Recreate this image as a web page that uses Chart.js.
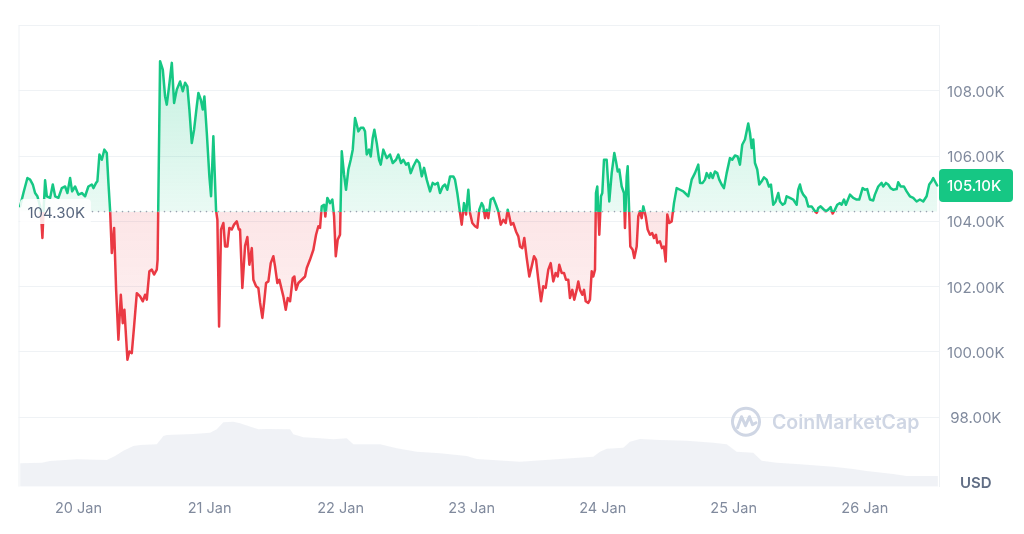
<!DOCTYPE html>
<html>
<head>
<meta charset="utf-8">
<style>
  html, body { margin: 0; padding: 0; background: #ffffff; }
  #wrap { width: 1024px; height: 534px; position: relative; }
  canvas { display: block; }
</style>
<script src="https://cdn.jsdelivr.net/npm/chart.js@4.4.1/dist/chart.umd.min.js"></script>
</head>
<body>
<div id="wrap"><canvas id="c" width="1024" height="534" style="width:1024px;height:534px"></canvas></div>
<script>
// ---------- DATA ----------
// time in hours relative to 20 Jan 00:00
const TIME_H = [
-10.70,-10.10,-9.37,-8.87,-8.38,-7.96,-7.54,-7.04,-6.80,-6.62,
-6.44,-6.13,-5.81,-5.21,-4.72,-4.29,-3.69,-3.07,-2.46,-2.04,
-1.55,-1.18,-0.63,-0.03,0.60,1.20,1.80,2.43,2.72,3.21,
3.45,3.82,4.26,4.73,5.17,5.47,5.78,6.09,6.51,6.88,
7.30,7.74,8.10,8.40,8.95,9.31,9.75,10.17,10.67,11.27,
11.77,12.19,12.50,12.97,13.41,13.83,14.33,14.48,14.93,15.43,
15.85,16.16,16.58,17.08,17.50,17.99,18.60,19.09,19.51,19.93,
20.30,20.74,21.16,21.65,21.95,22.39,22.75,23.05,23.49,23.96,
24.27,24.69,25.19,25.43,25.74,26.10,26.53,26.84,27.26,27.62,
28.06,28.48,28.98,29.35,29.58,30.00,30.50,30.92,31.29,31.73,
32.02,32.51,32.93,33.25,33.67,33.98,34.34,34.77,35.20,35.68,
35.99,36.41,36.78,37.22,37.51,37.95,38.32,38.74,39.23,39.53,
39.84,40.26,40.88,41.49,41.80,42.40,43.01,43.50,43.92,44.23,
44.54,44.97,45.20,45.57,46.06,46.49,46.80,47.11,47.47,47.89,
48.21,48.63,48.99,49.42,49.85,50.22,50.64,50.95,51.25,51.69,
52.16,52.47,52.78,53.21,53.52,53.88,54.18,54.62,55.04,55.35,
55.82,56.45,57.05,57.55,58.15,58.57,59.07,59.49,59.98,60.40,
60.84,61.32,61.94,62.42,62.86,63.28,63.77,64.38,64.87,65.29,
65.79,66.21,66.70,67.12,67.54,68.04,68.64,68.95,69.37,69.87,
70.18,70.60,70.97,71.39,71.70,72.12,72.62,73.04,73.40,73.84,
74.14,74.45,74.76,75.05,75.49,75.97,76.46,76.88,77.32,77.80,
78.24,78.60,78.90,79.21,79.63,80.12,80.55,80.86,81.28,81.64,
82.08,82.56,83.00,83.42,83.79,84.21,84.70,85.12,85.56,86.04,
86.48,86.95,87.39,87.76,88.05,88.49,88.91,89.28,89.70,90.01,
90.43,90.80,91.24,91.53,91.84,92.26,92.58,92.89,93.36,93.67,
93.99,94.28,94.59,94.77,95.01,95.38,95.69,95.93,96.24,96.73,
97.21,97.65,98.13,98.44,98.75,99.04,99.48,99.90,100.08,100.40,
100.58,100.82,101.06,101.49,101.79,102.23,102.52,102.83,103.14,103.44,
103.88,104.24,104.66,105.08,105.39,105.76,106.00,106.49,106.86,107.23,
107.54,107.83,108.20,108.64,109.06,109.55,110.16,110.76,111.07,111.68,
112.30,112.90,113.51,113.82,114.31,114.73,115.05,115.52,115.78,116.14,
116.57,116.99,117.35,117.79,118.21,118.71,119.31,119.73,120.23,120.72,
121.14,121.56,122.06,122.66,122.98,123.29,123.58,123.89,124.31,124.68,
125.12,125.54,126.03,126.45,126.82,127.24,127.68,128.16,128.47,128.96,
129.38,129.69,130.30,130.90,131.53,131.82,132.13,132.44,132.74,133.23,
133.65,134.27,134.88,135.19,135.48,135.92,136.40,136.89,137.31,137.75,
138.12,138.54,138.96,139.45,139.77,140.19,140.55,141.29,141.89,142.51,
142.99,143.61,144.03,144.45,144.95,145.55,145.86,146.47,147.09,147.38,
147.88,148.30,148.74,149.21,149.84,150.13,150.57,151.18,151.67,152.27,
152.88,153.50,154.10,154.71,155.33,155.81,156.25,156.54,156.85,157.27
];
// price in thousands of USD
const PRICE_K = [
104.46,104.87,105.33,105.28,105.13,104.87,104.77,104.46,104.00,103.49,
104.21,105.26,104.77,104.72,105.13,104.77,104.72,105.02,105.07,104.87,
105.33,104.92,105.07,104.82,104.87,104.77,105.07,105.13,105.02,105.18,
105.23,106.05,105.89,106.20,106.10,105.18,104.33,103.03,103.80,101.90,
100.37,101.75,100.88,101.29,99.76,100.01,99.96,100.78,101.80,101.70,
101.55,101.75,101.60,102.47,102.52,102.37,102.52,102.83,108.91,108.65,
107.83,107.58,108.14,108.86,107.63,108.04,108.29,107.99,108.25,108.14,
107.43,106.40,106.81,107.53,107.94,107.73,107.43,107.83,106.71,105.38,
104.77,106.61,104.33,104.05,100.78,103.75,103.95,103.23,103.23,103.80,
103.75,103.90,104.00,103.75,103.75,101.96,103.25,103.52,102.67,103.18,
102.21,102.01,101.96,101.50,101.04,101.50,102.11,102.16,102.72,102.93,
102.62,102.11,102.21,101.90,101.70,101.29,101.65,101.55,102.26,102.31,
101.90,102.11,102.21,102.31,102.57,102.83,103.13,103.59,103.85,103.80,
104.46,104.51,104.15,104.72,104.56,104.67,104.15,102.93,103.44,103.59,
106.15,105.43,104.97,105.59,105.89,106.20,107.17,106.97,106.76,106.87,
106.87,106.76,106.05,106.20,105.99,106.56,106.81,106.40,105.89,105.74,
106.20,105.94,106.05,105.79,105.89,106.05,105.79,105.89,105.74,105.79,
105.48,105.69,105.89,105.79,105.38,105.64,105.28,104.92,105.18,105.13,
105.18,104.87,105.07,105.13,104.97,105.38,105.38,105.28,104.87,104.26,
103.90,104.56,104.21,104.97,104.26,103.95,103.85,103.81,104.36,104.56,
104.46,104.10,104.36,104.10,104.67,104.72,104.51,104.31,103.90,104.05,
103.95,104.36,104.15,103.90,103.95,103.69,103.54,103.23,103.18,103.49,
102.88,102.31,102.62,102.93,102.83,102.21,101.55,102.01,101.96,102.52,
102.72,102.16,102.42,102.31,102.67,102.42,102.42,102.21,102.21,101.65,
101.90,101.60,101.90,102.16,101.90,101.75,101.90,101.55,101.50,101.60,
102.47,102.31,102.52,104.87,105.07,103.59,104.77,104.87,105.89,105.89,
104.61,105.48,106.10,105.84,105.53,105.59,105.07,104.87,103.80,105.38,
105.69,104.46,103.23,103.13,102.88,103.23,104.15,104.31,104.10,104.46,
104.15,103.75,103.59,103.64,103.49,103.59,103.34,103.39,103.18,103.23,
102.77,104.21,103.95,104.00,104.56,105.02,104.97,104.92,104.87,104.77,
105.28,105.48,105.74,105.18,105.18,105.28,105.48,105.33,105.48,105.33,
105.53,105.48,105.28,105.13,105.02,105.48,105.94,105.89,106.02,105.99,
105.74,106.35,106.51,107.00,106.71,106.25,106.51,105.79,105.59,105.13,
105.23,105.35,105.28,105.07,105.13,104.51,104.61,104.87,104.61,104.51,
104.56,104.77,104.72,104.67,104.51,104.97,105.13,104.92,104.82,104.72,
104.46,104.46,104.31,104.26,104.41,104.46,104.38,104.31,104.36,104.44,
104.24,104.36,104.51,104.56,104.51,104.67,104.51,104.82,104.72,104.67,
104.67,105.02,104.97,104.99,104.67,104.64,104.82,105.07,105.18,105.07,
105.18,105.13,105.02,104.97,104.99,105.20,105.07,105.07,104.92,104.77,
104.72,104.61,104.67,104.61,104.77,105.13,105.23,105.33,105.23,105.10
];
// 24h volume (relative, billions USD) sampled at these hours
const VOL_H = [-10.70,-6.73,-5.21,-2.46,-0.32,5.17,6.69,8.21,10.04,11.27,14.33,15.54,16.16,21.03,24.09,25.32,26.53,28.36,29.58,31.10,32.93,34.47,38.74,39.34,41.17,44.23,46.67,49.12,50.33,55.22,58.28,61.94,66.21,71.10,72.93,80.86,88.18,94.28,95.51,96.73,99.77,101.00,102.83,106.49,111.38,116.25,118.71,120.54,123.58,125.12,127.86,132.13,138.23,141.89,144.34,149.21,151.67,157.40];
const VOL_B = [20.3,20.8,22.3,23.2,23.8,23.2,26.6,31.2,35.3,36.2,36.8,44.0,44.9,45.7,46.9,49.8,55.9,56.4,55.0,52.7,49.8,50.1,49.8,45.5,42.9,42.0,41.1,42.0,36.8,36.8,33.3,30.4,29.0,26.6,24.0,21.7,24.0,26.0,30.4,33.0,33.8,39.0,41.4,40.5,39.9,38.2,36.8,30.4,29.5,22.6,20.8,19.4,17.4,15.4,13.6,11.0,9.3,9.3];

const DAY_TICKS = [0, 24, 48, 72, 96, 120, 144];
const DAY_LABELS = ['20 Jan', '21 Jan', '22 Jan', '23 Jan', '24 Jan', '25 Jan', '26 Jan'];
const Y_TICKS = [96, 98, 100, 102, 104, 106, 108, 110];
const BASE_K = 104.30;
const CURRENCY = 'USD';

// ---------- STYLE ----------
const GREEN = '#16c784';
const RED = '#ea3943';
const GRID = '#eff2f5';
const LABEL = '#808a9d';
const DARK = '#58667e';
const FONT = 'Inter, "Noto Sans", sans-serif';
Chart.defaults.font.family = FONT;

function lineGradient(c) {
  const chart = c.chart;
  const a = chart.chartArea;
  if (!a) return GREEN;
  const yb = chart.scales.y.getPixelForValue(BASE_K);
  const f = Math.min(1, Math.max(0, (yb - a.top) / (a.bottom - a.top)));
  const g = chart.ctx.createLinearGradient(0, a.top, 0, a.bottom);
  g.addColorStop(0, GREEN); g.addColorStop(f, GREEN);
  g.addColorStop(f, RED); g.addColorStop(1, RED);
  return g;
}
function fillGradient(c) {
  const chart = c.chart;
  const a = chart.chartArea;
  if (!a) return 'rgba(22,199,132,0.15)';
  const yb = chart.scales.y.getPixelForValue(BASE_K);
  const f = Math.min(1, Math.max(0, (yb - a.top) / (a.bottom - a.top)));
  const g = chart.ctx.createLinearGradient(0, a.top, 0, a.bottom);
  g.addColorStop(0, 'rgba(22,199,132,0.28)');
  g.addColorStop(f, 'rgba(22,199,132,0.09)');
  g.addColorStop(f, 'rgba(234,57,67,0.13)');
  g.addColorStop(Math.min(1, f + 0.33), 'rgba(234,57,67,0.06)');
  g.addColorStop(1, 'rgba(234,57,67,0.03)');
  return g;
}

const overlay = {
  id: 'overlay',
  beforeDatasetsDraw(chart) {
    const { ctx, chartArea: a } = chart;
    ctx.save();
    // left frame line
    ctx.strokeStyle = GRID; ctx.lineWidth = 1;
    ctx.beginPath(); ctx.moveTo(a.left + 0.5, a.top); ctx.lineTo(a.left + 0.5, a.bottom); ctx.stroke();
    // watermark
    const cx = a.right - 193, cy = a.bottom - 65;
    ctx.strokeStyle = '#cfd6e4'; ctx.lineWidth = 3; ctx.lineCap = 'round'; ctx.lineJoin = 'round';
    ctx.beginPath(); ctx.arc(cx, cy, 13.5, -0.12 * Math.PI, 1.86 * Math.PI, false); ctx.stroke();
    ctx.beginPath();
    ctx.moveTo(cx - 8.5, cy + 6);
    ctx.lineTo(cx - 4.5, cy - 5);
    ctx.lineTo(cx - 0.5, cy + 4);
    ctx.lineTo(cx + 3.5, cy - 5);
    ctx.lineTo(cx + 6.5, cy + 3);
    ctx.lineTo(cx + 10, cy + 1);
    ctx.stroke();
    ctx.fillStyle = '#cfd6e4';
    ctx.font = '600 19.5px ' + FONT;
    ctx.textAlign = 'left'; ctx.textBaseline = 'middle';
    ctx.fillText('CoinMarketCap', cx + 26, cy + 1);
    ctx.restore();
  },
  afterDatasetsDraw(chart) {
    const { ctx, chartArea: a, scales } = chart;
    const yb = scales.y.getPixelForValue(BASE_K);
    ctx.save();
    // dotted baseline
    ctx.fillStyle = '#9aa2b1';
    for (let x = a.left + 74; x < a.right - 1; x += 6) {
      ctx.beginPath(); ctx.arc(x, yb, 0.8, 0, Math.PI * 2); ctx.fill();
    }
    // baseline label
    ctx.fillStyle = 'rgba(255,255,255,0.86)';
    ctx.beginPath(); ctx.roundRect(a.left + 1.5, yb - 12.5, 71, 25, 4); ctx.fill();
    ctx.fillStyle = DARK;
    ctx.font = '15px ' + FONT;
    ctx.textAlign = 'left'; ctx.textBaseline = 'middle';
    ctx.fillText(BASE_K.toFixed(2) + 'K', a.left + 9, yb + 2);
    // current price badge
    const last = PRICE_K[PRICE_K.length - 1];
    const yc = scales.y.getPixelForValue(last);
    ctx.fillStyle = GREEN;
    ctx.beginPath(); ctx.roundRect(a.right, yc - 16.5, 74, 33, 4); ctx.fill();
    ctx.fillStyle = '#ffffff';
    ctx.font = '500 15px ' + FONT;
    ctx.fillText(last.toFixed(2) + 'K', a.right + 8, yc + 1);
    ctx.restore();
  }
};

const chart = new Chart(document.getElementById('c'), {
  type: 'line',
  data: {
    datasets: [
      {
        label: 'Price',
        data: TIME_H.map((t, i) => ({ x: t, y: PRICE_K[i] })),
        yAxisID: 'y',
        borderColor: lineGradient,
        backgroundColor: fillGradient,
        borderWidth: 2.5,
        borderJoinStyle: 'round',
        borderCapStyle: 'round',
        pointRadius: 0,
        tension: 0,
        fill: { value: BASE_K },
        order: 1
      },
      {
        label: 'Volume',
        data: VOL_H.map((t, i) => ({ x: t, y: VOL_B[i] })),
        yAxisID: 'yv',
        borderWidth: 0,
        borderColor: 'rgba(0,0,0,0)',
        backgroundColor: 'rgba(207,214,228,0.32)',
        pointRadius: 0,
        tension: 0,
        fill: 'origin',
        order: 2
      }
    ]
  },
  options: {
    responsive: false,
    animation: false,
    events: [],
    layout: { padding: { left: 18.5, top: 25.7, right: 0, bottom: 0 } },
    plugins: { legend: { display: false }, tooltip: { enabled: false } },
    scales: {
      x: {
        type: 'linear',
        min: -11,
        max: 157.6,
        grid: { display: false },
        border: { display: false },
        afterBuildTicks: (s) => { s.ticks = DAY_TICKS.map(v => ({ value: v })); },
        afterFit: (s) => { s.height = 47.3; },
        ticks: {
          autoSkip: false,
          maxRotation: 0,
          padding: 5,
          color: LABEL,
          font: { size: 14.5 },
          callback: (v) => DAY_LABELS[DAY_TICKS.indexOf(v)]
        }
      },
      y: {
        position: 'right',
        min: 95.865,
        max: 110,
        afterBuildTicks: (s) => { s.ticks = Y_TICKS.map(v => ({ value: v })); },
        afterFit: (s) => { s.width = 85; },
        grid: {
          drawTicks: false,
          color: (c) => (c.tick && c.tick.value === 96) ? 'rgba(0,0,0,0)' : GRID,
          lineWidth: 1
        },
        border: { display: true, color: GRID },
        ticks: {
          padding: 8,
          labelOffset: 1.5,
          crossAlign: 'center',
          color: (c) => (c.tick && c.tick.value === 96) ? '#616e85' : LABEL,
          font: (c) => (c.tick && c.tick.value === 96) ? { size: 15, weight: '600' } : { size: 15 },
          callback: (v) => v === 96 ? CURRENCY : (v === 110 ? '' : v.toFixed(2) + 'K')
        }
      },
      yv: { display: false, min: 0, max: 400 }
    }
  },
  plugins: [overlay]
});
chart.update();
</script>
</body>
</html>
